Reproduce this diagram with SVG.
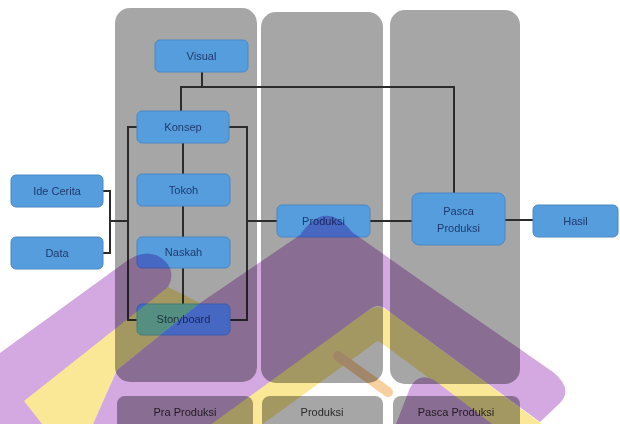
<svg xmlns="http://www.w3.org/2000/svg" width="620" height="424" viewBox="0 0 620 424">
<style>
  .panel{fill:#a6a6a6}
  .box{fill:#559ddd;stroke:#4a88c6;stroke-width:1}
  .lbl{fill:#a6a6a6}
  .t{font-family:"Liberation Sans",Arial,sans-serif;font-size:11px;fill:#1f3a6e;text-anchor:middle}
  .tl{font-family:"Liberation Sans",Arial,sans-serif;font-size:11px;fill:#2a2a2a;text-anchor:middle}
  .c{fill:none;stroke:#2b2b2b;stroke-width:2}
  .wm{mix-blend-mode:multiply}
  .wp{fill:#d4a8e0}
  .wy{fill:#fae896}
</style>
<rect width="620" height="424" fill="#ffffff"/>
<g id="panels">
  <rect class="panel" x="115" y="8" width="142" height="374" rx="15"/>
  <rect class="panel" x="261" y="12" width="122" height="371" rx="15"/>
  <rect class="panel" x="390" y="10" width="130" height="374" rx="15"/>
</g>
<g id="stage-labels">
  <g id="lbl-pra"><rect class="lbl" x="117" y="396" width="136" height="40" rx="8"/><text class="tl" x="185" y="416">Pra Produksi</text></g>
  <g id="lbl-produksi"><rect class="lbl" x="262" y="396" width="121" height="40" rx="8"/><text class="tl" x="322" y="416">Produksi</text></g>
  <g id="lbl-pasca"><rect class="lbl" x="393" y="396" width="127" height="40" rx="8"/><text class="tl" x="456" y="416">Pasca Produksi</text></g>
</g>
<g id="connectors">
  <path class="c" d="M202 72 V87 M181 111 V87 H454 V193"/>
  <path class="c" d="M183 143 V174 M183 206 V237 M183 268 V304"/>
  <path class="c" d="M137 127 H128 V320 H137"/>
  <path class="c" d="M229 127 H247 V320 H230"/>
  <path class="c" d="M103 191 H110 V253 H103 M110 221 H128"/>
  <path class="c" d="M247 221 H277 M370 221 H412 M505 220 H533"/>
</g>
<g id="visual"><rect class="box" x="155" y="40" width="93" height="32" rx="5"/><text class="t" x="201.5" y="60">Visual</text></g>
<g id="konsep"><rect class="box" x="137" y="111" width="92" height="32" rx="5"/><text class="t" x="183" y="131">Konsep</text></g>
<g id="tokoh"><rect class="box" x="137" y="174" width="93" height="32" rx="5"/><text class="t" x="183.5" y="194">Tokoh</text></g>
<g id="naskah"><rect class="box" x="137" y="237" width="93" height="31" rx="5"/><text class="t" x="183.5" y="256">Naskah</text></g>
<g id="storyboard"><rect class="box" x="137" y="304" width="93" height="31" rx="5"/><text class="t" x="183.5" y="323">Storyboard</text></g>
<g id="ide-cerita"><rect class="box" x="11" y="175" width="92" height="32" rx="5"/><text class="t" x="57" y="195">Ide Cerita</text></g>
<g id="data"><rect class="box" x="11" y="237" width="92" height="32" rx="5"/><text class="t" x="57" y="257">Data</text></g>
<g id="produksi"><rect class="box" x="277" y="205" width="93" height="32" rx="5"/><text class="t" x="323.5" y="225">Produksi</text></g>
<g id="pasca-produksi"><rect class="box" x="412" y="193" width="93" height="52" rx="7"/><text class="t" x="458.5" y="215">Pasca</text><text class="t" x="458.5" y="232">Produksi</text></g>
<g id="hasil"><rect class="box" x="533" y="205" width="85" height="32" rx="5"/><text class="t" x="575.5" y="225">Hasil</text></g>
<g id="watermark" class="wm">
  <path class="wp" d="M0 353 L128 260 Q150 246 166 262 Q176 274 168 287 L80 424 L0 424 Z"/>
  <path class="wy" d="M24 401 L168 287 L200 303 L117 370 L93 424 L42 424 Z"/>
  <path class="wp" d="M93 424 L117 370 L200 303 L300 235 Q325 198 352 232 L420 280 L553 372 Q575 390 558 405 L540 422 L387 310 Q378 302 369 310 L214 424 Z"/>
  <path fill="none" stroke="#fae896" stroke-width="30" stroke-linejoin="round" d="M215 440 L378 322 L545 445"/>
  <path class="wp" d="M396 424 L410 388 Q418 372 434 380 L492 424 Z"/>
  <path fill="none" stroke="#f8cf9e" stroke-width="10" stroke-linecap="round" d="M338 356 L388 392"/>
</g>
</svg>
